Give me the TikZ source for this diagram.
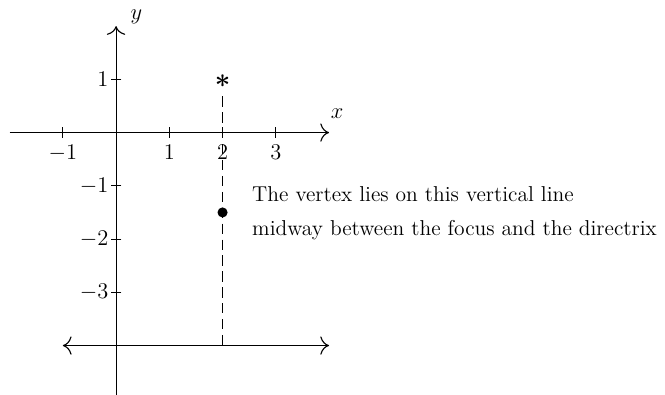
\documentclass[tikz,border=0pt]{standalone}
\usepackage{amsmath, amssymb}
\usepackage{tikz}
\usetikzlibrary{calc, positioning, arrows.meta}

\begin{document}
\begin{tikzpicture}[>={To[scale=1.6]}, scale=1.0,
    axis line/.style={line width=0.6pt},
    tick label/.style={font=\fontsize{12}{14}\selectfont},
    note/.style={anchor=base west, inner sep=0pt, font=\fontsize{11.5}{14}\selectfont}]

    % Khung hình
    \useasboundingbox (-2.18,-4.92) rectangle (10.31,2.49);

    % 1. Trục tọa độ
    \draw[->, axis line]
        (-2,0) -- (4,0);
    \node[tick label] (xlabel) at (4.15,0.36) {$x$};

    \draw[->, axis line]
        (0,-5) -- (0,2);
    \node[tick label] (ylabel) at (0.38,2.17) {$y$};

    % 2. Vạch chia trên các trục
    \foreach \x in {-1,1,2,3}
        \draw[axis line] (\x,0.1) -- (\x,-0.1)
            node[below, tick label] {$\x$};

    \foreach \y in {1,-1,-2,-3}
        \draw[axis line] (0.1,\y) -- (-0.1,\y)
            node[left, tick label, inner sep=1pt] {$\y$};

    % 3. Đường chuẩn y = -4
    \draw[<->, axis line]
        (-1,-4) -- (4,-4);

    % 4. Tiêu điểm và đỉnh
    \node[inner sep=0pt, font=\fontsize{14}{14}\selectfont] (focus) at (2,0.97) {$\boldsymbol{\ast}$};
    \coordinate (top) at (2,0.68);
    \coordinate (foot) at (2,-4);
    \draw[dashed, axis line, dash pattern=on 5.5pt off 3pt]
        (top) -- (foot);

    \fill (2,-1.5) circle (2.7pt);

    % 5. Chú thích
    \node[note] (line1) at (2.55,-1.30) {The vertex lies on this vertical line};
    \node[note] (line2) at (2.55,-1.94) {midway between the focus and the directrix};

\end{tikzpicture}
\end{document}
